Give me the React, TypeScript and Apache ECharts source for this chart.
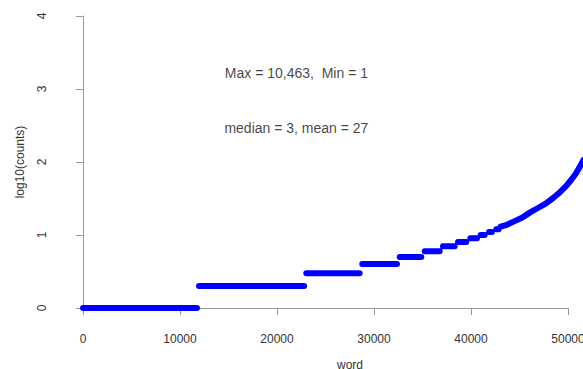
import React, { useEffect, useRef } from "react";
import * as echarts from "echarts";

const xTicks = [0, 10000, 20000, 30000, 40000, 50000];
const yTicks = [0, 1, 2, 3, 4];

// flat runs of equal log10(count)
const stepLevels = [0, 0.301, 0.477, 0.602, 0.699, 0.778, 0.845, 0.903, 0.954, 1.0, 1.041, 1.079];
const stepStarts = [1, 11960, 23020, 28790, 32650, 35230, 37110, 38660, 39930, 41000, 41860, 42610];
const stepEnds = [11750, 22800, 28520, 32370, 34880, 36770, 38320, 39510, 40620, 41410, 42160, 42850];

// near-continuous upper tail
const curveX = [43050, 43700, 44500, 45300, 46100, 46900, 47700, 48500, 49200, 49800, 50300, 50800, 51200, 51600];
const curveY = [1.114, 1.14, 1.19, 1.24, 1.31, 1.37, 1.43, 1.51, 1.59, 1.67, 1.75, 1.84, 1.93, 2.03];

const notes = ["Max = 10,463,  Min = 1", "median = 3, mean = 27"];
const noteX = [22000, 22000];
const noteY = [3.22, 2.47];

const FONT = "'Liberation Sans', Arial, Helvetica, sans-serif";

// layout
const GL = 83;
const GR = 15;
const GT = 16;
const GB = 61;
const W = 583;

export default function App() {
  const ref = useRef<HTMLDivElement>(null);
  useEffect(() => {
    if (!ref.current) return;
    const chart = echarts.init(ref.current, null, { renderer: "svg" });

    const lineData: any[] = [];
    stepLevels.forEach((lv, i) => {
      lineData.push([stepStarts[i], lv]);
      lineData.push([stepEnds[i], lv]);
      lineData.push([stepEnds[i], "-"]);
    });
    curveX.forEach((x, i) => lineData.push([x, curveY[i]]));

    const xMaxTick = xTicks[xTicks.length - 1];
    const dataXMax = curveX[curveX.length - 1];
    const tickSpan = W - GL - GR;
    const dataWidth = (tickSpan * dataXMax) / xMaxTick;

    chart.setOption({
      animation: false,
      backgroundColor: "#ffffff",
      textStyle: { fontFamily: FONT },
      grid: [
        { left: GL, top: GT, bottom: GB, width: dataWidth, containLabel: false, outerBoundsMode: "none" },
        { left: GL, right: GR, top: GT, bottom: GB, containLabel: false, outerBoundsMode: "none" },
      ],
      xAxis: [
        { type: "value", gridIndex: 0, min: 0, max: dataXMax, show: false },
        {
          type: "value",
          gridIndex: 1,
          min: xTicks[0],
          max: xMaxTick,
          interval: 10000,
          offset: 14,
          splitLine: { show: false },
          axisLine: { show: true, lineStyle: { color: "#999999", width: 1 } },
          axisTick: { show: true, length: 7, lineStyle: { color: "#999999" } },
          axisLabel: {
            color: "#333333",
            fontSize: 12,
            margin: 11,
            fontFamily: FONT,
            formatter: (v: number) => String(v),
            showMaxLabel: true,
            showMinLabel: true,
          },
          name: "word",
          nameLocation: "middle",
          nameGap: 37,
          nameTextStyle: { color: "#333333", fontSize: 12, fontFamily: FONT, padding: [0, 0, 0, 49] },
        },
      ],
      yAxis: [
        { type: "value", gridIndex: 0, min: yTicks[0], max: yTicks[yTicks.length - 1], show: false },
        {
          type: "value",
          gridIndex: 1,
          min: yTicks[0],
          max: yTicks[yTicks.length - 1],
          interval: 1,
          offset: 21,
          splitLine: { show: false },
          axisLine: { show: true, lineStyle: { color: "#999999", width: 1 } },
          axisTick: { show: true, length: 7, lineStyle: { color: "#999999" } },
          axisLabel: {
            color: "#333333",
            fontSize: 12,
            margin: 14,
            rotate: 90,
            fontFamily: FONT,
            formatter: (v: number) => String(v),
          },
          name: "log10(counts)",
          nameLocation: "middle",
          nameGap: 36,
          nameTextStyle: { color: "#333333", fontSize: 12, fontFamily: FONT },
        },
      ],
      series: [
        {
          type: "line",
          xAxisIndex: 0,
          yAxisIndex: 0,
          data: lineData,
          symbol: "none",
          connectNulls: false,
          clip: false,
          lineStyle: { color: "#0000ff", width: 6, cap: "round", join: "round" },
          silent: true,
        },
        {
          type: "scatter",
          xAxisIndex: 0,
          yAxisIndex: 0,
          symbolSize: 1,
          itemStyle: { color: "rgba(0,0,0,0)" },
          clip: false,
          silent: true,
          data: notes.map((t, i) => ({
            value: [noteX[i], noteY[i]],
            label: {
              show: true,
              position: "inside",
              formatter: t,
              color: "#111111",
              fontSize: 14,
              fontFamily: FONT,
            },
          })),
        },
      ],
    });
    return () => chart.dispose();
  }, []);
  return (
    <div
      ref={ref}
      style={{ position: "fixed", left: 0, top: 0, width: W, height: 369, background: "#fff" }}
    />
  );
}
